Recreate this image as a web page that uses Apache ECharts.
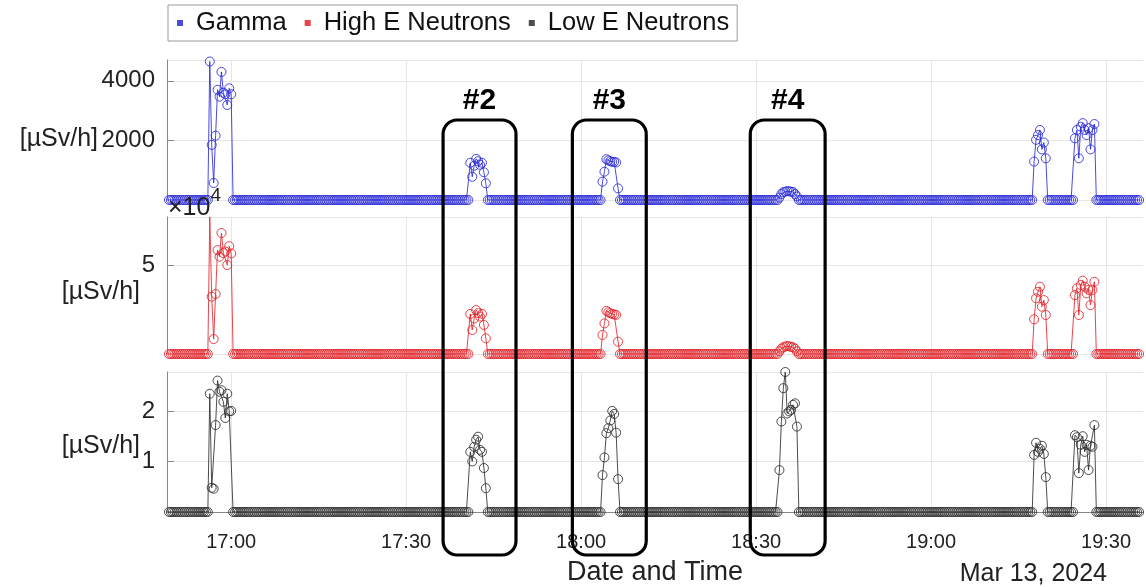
<!DOCTYPE html>
<html>
<head>
<meta charset="utf-8">
<script src="https://cdn.jsdelivr.net/npm/echarts@6/dist/echarts.min.js"></script>
<style>
html,body{margin:0;padding:0;background:#fff;}
#c{width:1146px;height:587px;}
</style>
</head>
<body>
<div id="c"></div>
<script>
// ---------- DATA ----------
const seriesNames = ['Gamma', 'High E Neutrons', 'Low E Neutrons'];
const unitLabel = '[µSv/h]';
const dayStr = '2024-03-13';
const dateLabel = 'Mar 13, 2024';
const xAxisTitle = 'Date and Time';
const sampleStart = '16:49:20';
const sampleEnd = '19:35:40';
const sampleStepSec = 20;
const axisMin = '16:49:00';
const axisMax = '19:36:20';
const xTickTimes = ['17:00', '17:30', '18:00', '18:30', '19:00', '19:30'];

// start time of each radiation event (values between events are 0)
const eventStarts = ['16:56:20', '17:41:00', '18:03:40', '18:34:00', '19:17:40', '19:24:40'];

// Gamma [µSv/h]
const gammaPeaks = [
  [4650, 1850, 570, 2160, 3700, 3470, 4300, 3600, 3550, 3190, 3750, 3550],
  [1250, 780, 1150, 1380, 1300, 1180, 1250, 930, 560],
  [615, 950, 1370, 1330, 1300, 1280, 1280, 1260, 390],
  [80, 200, 260, 280, 300, 290, 280, 270, 200, 120],
  [1290, 2020, 2180, 2350, 1700, 1930, 1400],
  [2070, 2350, 1400, 2460, 2580, 2350, 2180, 2410, 1700, 2350, 2550]
];
// High E Neutrons [×10^4 µSv/h]
const highEPeaks = [
  [7.71, 3.22, 0.84, 3.37, 5.84, 5.47, 6.8, 5.67, 5.76, 5.0, 6.06, 5.65],
  [2.25, 1.35, 2.0, 2.47, 2.3, 2.1, 2.25, 1.63, 0.88],
  [1.07, 1.72, 2.43, 2.35, 2.29, 2.25, 2.22, 2.2, 0.69],
  [0.15, 0.3, 0.38, 0.42, 0.45, 0.43, 0.4, 0.38, 0.3, 0.15],
  [1.95, 3.13, 3.5, 3.78, 2.66, 3.03, 2.19],
  [3.31, 3.69, 2.19, 3.88, 4.12, 3.78, 3.41, 3.6, 2.75, 3.6, 4.06]
];
// Low E Neutrons [µSv/h]
const lowEPeaks = [
  [2.34, 0.48, 0.46, 1.72, 2.6, 2.38, 2.41, 2.18, 1.86, 2.34, 1.99, 2.0],
  [1.19, 1.0, 1.29, 1.43, 1.49, 1.23, 1.19, 0.87, 0.47],
  [0.73, 1.08, 1.56, 1.66, 1.81, 2.0, 1.94, 1.57, 0.65],
  [0.83, 1.79, 2.45, 2.77, 1.95, 1.99, 2.02, 2.12, 2.15, 1.69],
  [1.13, 1.37, 1.19, 1.25, 1.31, 1.15, 0.69],
  [1.52, 1.48, 0.77, 1.33, 1.5, 1.19, 1.33, 0.83, 1.31, 1.29, 1.72]
];

// y-axis ticks
const gammaTicks = {min: 0, max: 4700, interval: 2000};
const highETicks = {min: 0, max: 7.7, interval: 5};
const lowETicks = {min: 0, max: 2.77, interval: 1};
const highEExponent = 4;

// highlighted boxes
const boxLabels = ['#2', '#3', '#4'];
const boxStarts = ['17:36:20', '17:58:30', '18:29:00'];
const boxEnds = ['17:48:50', '18:11:10', '18:41:50'];

// ---------- BUILD ----------
function ts(hms) { return new Date(dayStr + 'T' + (hms.length === 5 ? hms + ':00' : hms)).getTime(); }
function hhmm(v) {
  const d = new Date(v);
  return String(d.getHours()).padStart(2, '0') + ':' + String(d.getMinutes()).padStart(2, '0');
}

function buildSeries(peaks) {
  const out = [];
  const t0 = ts(sampleStart), t1 = ts(sampleEnd);
  const evT = eventStarts.map(ts);
  for (let t = t0; t <= t1; t += sampleStepSec * 1000) {
    let v = 0;
    for (let e = 0; e < evT.length; e++) {
      const k = Math.round((t - evT[e]) / (sampleStepSec * 1000));
      if (k >= 0 && k < peaks[e].length) { v = peaks[e][k]; break; }
    }
    out.push([t, v]);
  }
  return out;
}

const colors = ['#2a2ad8', '#e2262b', '#2e2e2e'];
const FONT = 'Liberation Sans, Arial, sans-serif';
const tickVals = xTickTimes.map(ts);

const grids = [
  {left: 167, right: 3, top: 60, height: 140},
  {left: 167, right: 3, top: 217, height: 137},
  {left: 167, right: 3, top: 372, height: 140}
];

function xAxisCfg(i, showLabels) {
  return {
    type: 'value', gridIndex: i,
    min: ts(axisMin), max: ts(axisMax),
    axisLine: {show: showLabels, onZero: false, lineStyle: {color: '#888'}},
    axisTick: {show: false, customValues: tickVals},
    axisLabel: {show: showLabels, customValues: tickVals, formatter: v => hhmm(v),
      fontSize: 20, color: '#222', fontFamily: FONT, margin: 20},
    splitLine: {show: true, lineStyle: {color: '#e6e6e6', width: 1}},
    name: showLabels ? xAxisTitle : '',
    nameLocation: 'middle', nameGap: 47,
    nameTextStyle: {fontSize: 27, color: '#222', fontFamily: FONT}
  };
}

function yAxisCfg(i, ticks) {
  return {
    type: 'value', gridIndex: i,
    min: ticks.min, max: ticks.max, interval: ticks.interval,
    axisLine: {show: true, lineStyle: {color: '#888'}},
    axisTick: {show: true, inside: true, length: 7, lineStyle: {color: '#888'}},
    axisLabel: {fontSize: 24, color: '#222', fontFamily: FONT, margin: 12,
      showMinLabel: false, showMaxLabel: false,
      formatter: v => String(v)},
    splitLine: {show: true, lineStyle: {color: '#e6e6e6'}}
  };
}

function lineSeries(name, i, data, color) {
  return {
    name: name, type: 'line', xAxisIndex: i, yAxisIndex: i,
    data: data, showSymbol: true, showAllSymbol: true,
    symbol: 'circle', symbolSize: 9,
    itemStyle: {color: 'rgba(0,0,0,0)', borderColor: color, borderWidth: 1, opacity: 0.85},
    lineStyle: {color: color, width: 1, opacity: 0.85},
    emphasis: {disabled: true},
    animation: false, z: 3
  };
}

const chart = echarts.init(document.getElementById('c'), null, {renderer: 'canvas'});

chart.setOption({
  animation: false,
  backgroundColor: '#fff',
  title: {
    text: dateLabel, right: 34, top: 557,
    textStyle: {fontSize: 25, fontWeight: 'normal', color: '#222', fontFamily: FONT}
  },
  legend: {
    left: 168, top: 5,
    data: seriesNames.map((n, i) => ({name: n, icon: 'rect', itemStyle: {color: colors[i], borderWidth: 0}})),
    itemWidth: 6, itemHeight: 6, itemGap: 18,
    borderColor: '#999', borderWidth: 1, padding: [5, 8, 5, 9],
    textStyle: {fontSize: 25.5, color: '#111', fontFamily: FONT, padding: [0, 0, 0, 8]}
  },
  grid: grids,
  xAxis: [xAxisCfg(0, false), xAxisCfg(1, false), xAxisCfg(2, true)],
  yAxis: [yAxisCfg(0, gammaTicks), yAxisCfg(1, highETicks), yAxisCfg(2, lowETicks)],
  series: [
    lineSeries(seriesNames[0], 0, buildSeries(gammaPeaks), colors[0]),
    lineSeries(seriesNames[1], 1, buildSeries(highEPeaks), colors[1]),
    lineSeries(seriesNames[2], 2, buildSeries(lowEPeaks), colors[2])
  ]
});

// annotations: axis unit names, exponent label and highlight boxes
const nameRight = [98, 140, 140];
const nameShift = [9, 7, 4];
const gr = [];
grids.forEach((g, i) => {
  gr.push({
    type: 'text', z: 10, x: nameRight[i], y: g.top + g.height / 2 + nameShift[i],
    style: {text: unitLabel, fontSize: 25, fontFamily: FONT, fill: '#222', align: 'right', verticalAlign: 'middle'}
  });
});
gr.push({
  type: 'text', left: grids[1].left + 1, top: grids[1].top - 31, z: 10,
  style: {
    text: '{a|×10}{b|' + highEExponent + '}',
    rich: {
      a: {fontSize: 25, fontFamily: FONT, fill: '#222', verticalAlign: 'bottom', padding: [10, 0, 0, 0]},
      b: {fontSize: 19, fontFamily: FONT, fill: '#222', verticalAlign: 'top'}
    }
  }
});
const boxTop = 120, boxBottom = 555;
boxLabels.forEach((lab, i) => {
  const x0 = chart.convertToPixel({xAxisIndex: 2}, ts(boxStarts[i]));
  const x1 = chart.convertToPixel({xAxisIndex: 2}, ts(boxEnds[i]));
  gr.push({
    type: 'rect', z: 20,
    shape: {x: x0, y: boxTop, width: x1 - x0, height: boxBottom - boxTop, r: 14},
    style: {fill: 'none', stroke: '#000', lineWidth: 3.2}
  });
  gr.push({
    type: 'text', z: 20, x: (x0 + x1) / 2, y: boxTop - 19,
    style: {text: lab, fontSize: 30, fontWeight: 'bold', fontFamily: FONT, fill: '#000', align: 'center', verticalAlign: 'middle'}
  });
});
chart.setOption({graphic: gr});
</script>
</body>
</html>
